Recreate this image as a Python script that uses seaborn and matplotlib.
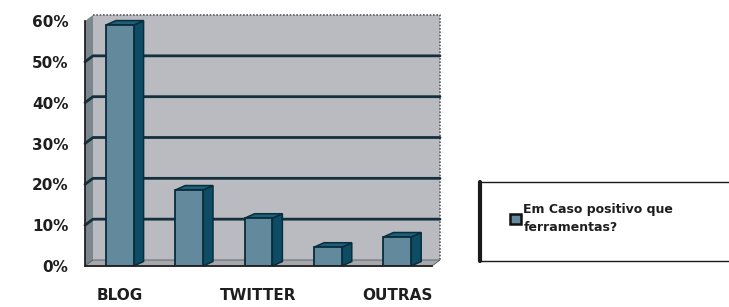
import matplotlib
matplotlib.use("Agg")
import matplotlib.pyplot as plt
from matplotlib.patches import Polygon, Rectangle
from matplotlib.lines import Line2D
import seaborn as sns
import pandas as pd

# ── Data ──────────────────────────────────────────────────────────────────────
categories = ["BLOG", "cat2", "TWITTER", "cat4", "OUTRAS"]
values = [59.0, 18.6, 11.7, 4.6, 7.1]
shown_labels = ["BLOG", "", "TWITTER", "", "OUTRAS"]
y_ticks = [0, 10, 20, 30, 40, 50, 60]
y_labels = [f"{v}%" for v in y_ticks]
legend_label = "Em Caso positivo que\nferramentas?"

# ── Style ─────────────────────────────────────────────────────────────────────
sns.set_style("white")
plt.rcParams["font.family"] = ["DejaVu Sans"]

FRONT = "#638a9c"
SIDE = "#0d4c64"
TOP = "#1f5f78"
EDGE = "#082d3c"
WALL = "#b9bbc0"
LWALL = "#7c878d"
GRID = "#13303c"

fig = plt.figure(figsize=(7.29, 3.07), dpi=100)
ax = fig.add_axes([85 / 729, 41 / 307, 347 / 729, 245 / 307])
ax.set_facecolor(WALL)

df = pd.DataFrame({"cat": categories, "val": values})
sns.barplot(data=df, x="cat", y="val", order=categories, color=FRONT,
            width=0.40, edgecolor=EDGE, linewidth=1.3, saturation=1,
            ax=ax, zorder=5)
ax.set_xlim(-0.5, 4.5)
ax.set_ylim(0, 60)

# pixel -> data conversion for the 3D offsets
W, H = fig.get_size_inches() * fig.dpi
pos = ax.get_position()
px_x = (ax.get_xlim()[1] - ax.get_xlim()[0]) / (pos.width * W)
px_y = (ax.get_ylim()[1] - ax.get_ylim()[0]) / (pos.height * H)
wdx, wdy = 8 * px_x, 6 * px_y     # wall depth
bdx, bdy = 10 * px_x, 4.5 * px_y  # bar depth

x0, x1 = ax.get_xlim()
y0, y1 = ax.get_ylim()

# back wall
ax.add_patch(Rectangle((x0 + wdx, y0 + wdy), x1 - x0, y1 - y0, facecolor=WALL,
                       edgecolor="none", clip_on=False, zorder=0))
ax.plot([x0 + wdx, x1 + wdx, x1 + wdx], [y1 + wdy, y1 + wdy, y0 + wdy],
        color="#555a60", lw=1.2, ls=(0, (1, 1)), clip_on=False, zorder=1)
# left wall
ax.add_patch(Polygon([(x0, y0), (x0, y1), (x0 + wdx, y1 + wdy), (x0 + wdx, y0 + wdy)],
                     closed=True, facecolor=LWALL, edgecolor="none",
                     clip_on=False, zorder=1))
# floor
ax.add_patch(Polygon([(x0, y0), (x1, y0), (x1 + wdx, y0 + wdy), (x0 + wdx, y0 + wdy)],
                     closed=True, facecolor="#a5a8ad", edgecolor="#555a60", lw=0.6,
                     clip_on=False, zorder=1))

# gridlines on back and left wall
for yv in y_ticks[1:-1]:
    ax.plot([x0, x0 + wdx, x1 + wdx], [yv, yv + wdy, yv + wdy], color=GRID,
            lw=2.0, clip_on=False, zorder=2)

# 3D sides and tops for each bar
bars = [p for p in ax.patches if isinstance(p, Rectangle)
        and p.get_facecolor()[:3] == matplotlib.colors.to_rgb(FRONT)]
for p in bars:
    bx, bw, bh = p.get_x(), p.get_width(), p.get_height()
    side = Polygon([(bx + bw, 0), (bx + bw, bh), (bx + bw + bdx, bh + bdy), (bx + bw + bdx, bdy)],
                   closed=True, facecolor=SIDE, edgecolor=EDGE, lw=1.1, zorder=4,
                   clip_on=False)
    top = Polygon([(bx, bh), (bx + bw, bh), (bx + bw + bdx, bh + bdy), (bx + bdx, bh + bdy)],
                  closed=True, facecolor=TOP, edgecolor=EDGE, lw=1.1, zorder=4,
                  clip_on=False)
    ax.add_patch(side)
    ax.add_patch(top)

# ── Axes & ticks ──────────────────────────────────────────────────────────────
for s in ["top", "right"]:
    ax.spines[s].set_visible(False)
for s in ["left", "bottom"]:
    ax.spines[s].set_color("#222222")
    ax.spines[s].set_linewidth(1.3)
    ax.spines[s].set_zorder(6)

ax.set_yticks(y_ticks, y_labels)
ax.tick_params(axis="y", length=6, width=1.2, color="#222222", pad=6,
               labelsize=11, labelcolor="#1e1e1e")
for t in ax.get_yticklabels():
    t.set_fontweight("bold")

ax.set_xticks(range(len(categories)), shown_labels)
ax.set_xticks([i - 0.5 for i in range(len(categories) + 1)], minor=True)
ax.tick_params(axis="x", which="major", length=0, pad=16, labelsize=11,
               labelcolor="#1e1e1e")
ax.tick_params(axis="x", which="minor", length=7, width=1.2, color="#222222")
for t in ax.get_xticklabels():
    t.set_fontweight("bold")
ax.set_xlabel("")
ax.set_ylabel("")

# ── Legend ────────────────────────────────────────────────────────────────────
lx0, ly0 = 480 / W, 1 - 261 / H
lx1, ly1 = 1.02, 1 - 182 / H
fig.patches.append(Rectangle((lx0, ly0), lx1 - lx0, ly1 - ly0, transform=fig.transFigure,
                             facecolor="white", edgecolor="#1a1a1a", lw=1.0))
fig.lines.append(Line2D([lx0, lx0], [ly0, ly1], transform=fig.transFigure,
                        color="#1a1a1a", lw=3))
handle = Rectangle((0, 0), 1, 1, facecolor=FRONT, edgecolor="#111111", lw=1.8)
leg = fig.legend([handle], [legend_label], loc="upper left",
                 bbox_to_anchor=(504 / W, 1 - 197 / H), frameon=False,
                 handlelength=0.85, handleheight=0.85, handletextpad=0.2,
                 borderpad=0, prop={"size": 9, "weight": "bold"})
for t in leg.get_texts():
    t.set_color("#1e1e1e")
    t.set_linespacing(1.5)

fig.savefig("out.png", dpi=100)
